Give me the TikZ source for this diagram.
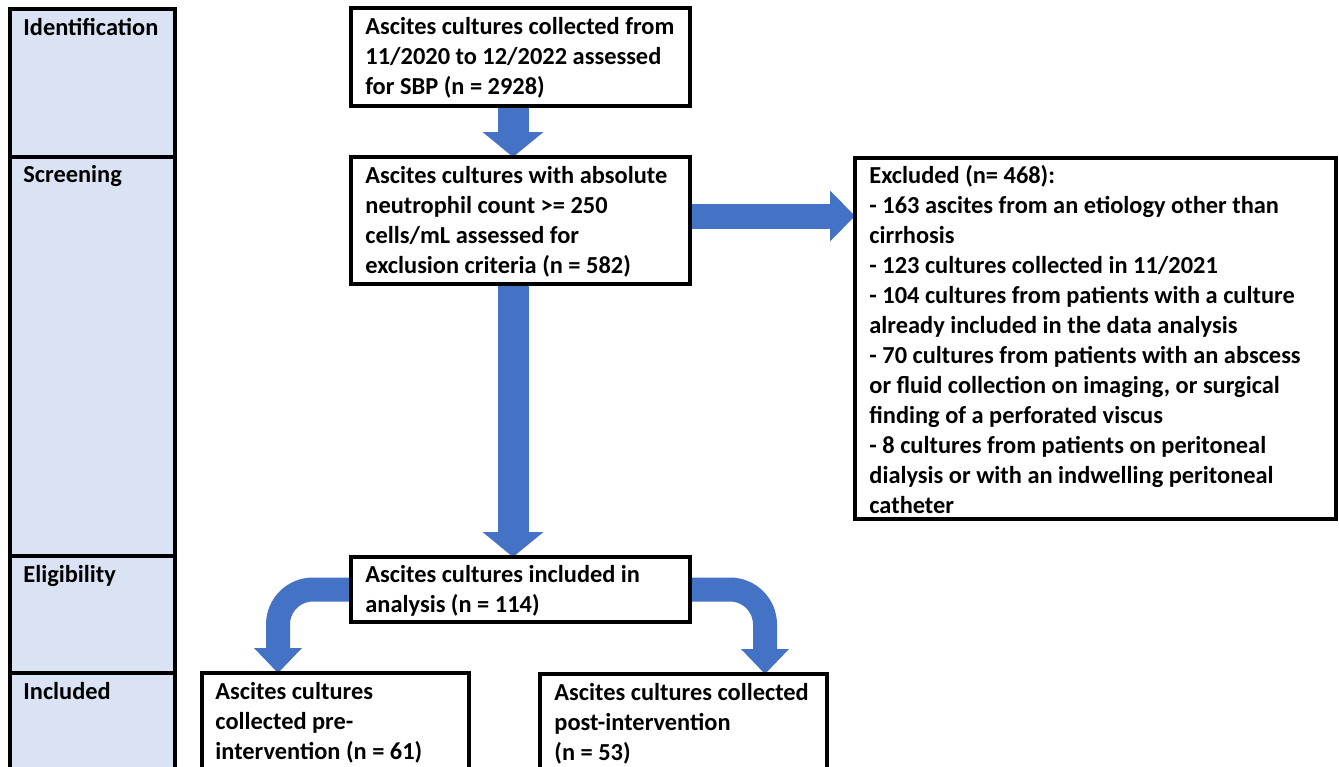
\documentclass[tikz,border=0pt]{standalone}
\usepackage{fontspec}
\setmainfont{Carlito}
\usetikzlibrary{calc}
\definecolor{acc}{HTML}{4472C4}
\definecolor{cellfill}{HTML}{DAE3F3}
\pgfdeclarelayer{background}
\pgfsetlayers{background,main}
\begin{document}
\begin{tikzpicture}[x=0.5pt,y=-0.5pt,
  cell/.style={draw, line width=1.6pt, fill=cellfill, anchor=north west, outer sep=0pt, inner sep=0pt, minimum width=82.5pt},
  box/.style={draw, line width=1.8pt, fill=white, anchor=north west, outer sep=0pt, inner sep=0pt},
  lab/.style={anchor=base west, inner sep=0pt, font=\bfseries\fontsize{12.2}{15}\selectfont},
  txt/.style={anchor=north west, inner sep=0pt, align=left, font=\bfseries\fontsize{12.2}{15}\selectfont},
  shaft/.style={draw=acc, line width=12pt, rounded corners=17.5pt},
  head/.style={fill=acc, draw=none}
]
\useasboundingbox (0,0) rectangle (1339,766);

% stage column
\node[cell, minimum height=74pt]    (c1) at (10,9)   {};
\node[cell, minimum height=199.5pt] (c2) at (10,157) {};
\node[cell, minimum height=58.5pt]  (c3) at (10,556) {};
\node[cell, minimum height=53.5pt]  (c4) at (10,673) {};
\node[lab] (l1) at ($(c1.north west)+(13,26)$) {Identification};
\node[lab] (l2) at ($(c2.north west)+(13,25)$) {Screening};
\node[lab] (l3) at ($(c3.north west)+(13,26)$) {Eligibility};
\node[lab] (l4) at ($(c4.north west)+(13,26)$) {Included};

% boxes
\node[box, minimum width=169.5pt, minimum height=49pt]    (b1) at (351,8)   {};
\node[box, minimum width=169.5pt, minimum height=63.5pt]  (b2) at (351,157) {};
\node[box, minimum width=240.5pt, minimum height=180.5pt] (ex) at (855,158) {};
\node[box, minimum width=169.5pt, minimum height=32.5pt]  (b3) at (351,557) {};
\node[box, minimum width=133.5pt, minimum height=53.5pt]  (bl) at (202,673) {};
\node[box, minimum width=143.5pt, minimum height=53.5pt]  (br) at (540,674) {};

\node[txt] (t1) at ($(b1.north west)+(14,5)$) {\strut Ascites cultures collected from\\11/2020 to 12/2022 assessed\\for SBP (n = 2928)};
\node[txt] (t2) at ($(b2.north west)+(14,5)$) {\strut Ascites cultures with absolute\\neutrophil count >= 250\\cells/mL assessed for\\exclusion criteria (n = 582)};
\node[txt] (tx) at ($(ex.north west)+(14,4)$) {\strut Excluded (n= 468):\\- 163 ascites from an etiology other than\\cirrhosis\\- 123 cultures collected in 11/2021\\- 104 cultures from patients with a culture\\already included in the data analysis\\- 70 cultures from patients with an abscess\\or fluid collection on imaging, or surgical\\finding of a perforated viscus\\- 8 cultures from patients on peritoneal\\dialysis or with an indwelling peritoneal\\catheter};
\node[txt] (t3) at ($(b3.north west)+(14,4)$) {\strut Ascites cultures included in\\analysis (n = 114)};
\node[txt] (tl) at ($(bl.north west)+(13,5)$) {\strut Ascites cultures\\collected pre-\\intervention (n = 61)};
\node[txt] (tr) at ($(br.north west)+(14,5)$) {\strut Ascites cultures collected\\post-intervention\\(n = 53)};

% block arrows
\begin{pgfonlayer}{background}
\fill[acc] ($(b1.south)+(-23,0)$) rectangle ($(b2.north)+(8,-25)$);
\fill[acc] ($(b2.north)+(-38,-25)$) -- ($(b2.north)+(23,-25)$) -- ($(b2.north)+(-7.5,0)$) -- cycle;

\fill[acc] ($(b2.south)+(-23,0)$) rectangle ($(b3.north)+(8,-25)$);
\fill[acc] ($(b3.north)+(-38,-25)$) -- ($(b3.north)+(23,-25)$) -- ($(b3.north)+(-7.5,0)$) -- cycle;

\coordinate (hs) at ($(b2.east)+(0,-4.5)$);
\coordinate (ht) at (ex.west |- hs);
\fill[acc] ($(hs)+(0,-12.5)$) rectangle ($(ht)+(-25,12.5)$);
\fill[acc] ($(ht)+(-25,-25.5)$) -- ($(ht)+(-25,25.5)$) -- (ht) -- cycle;

\coordinate (lt) at ($(bl.north)+(-57.5,0)$);
\draw[shaft] (b3.west) -| ($(lt)+(0,-25)$);
\fill[acc] ($(lt)+(-24,-25)$) -- ($(lt)+(24,-25)$) -- (lt) -- cycle;

\coordinate (rt) at ($(br.north)+(81.5,0)$);
\draw[shaft] (b3.east) -| ($(rt)+(0,-25)$);
\fill[acc] ($(rt)+(-24,-25)$) -- ($(rt)+(24,-25)$) -- (rt) -- cycle;
\end{pgfonlayer}
\end{tikzpicture}
\end{document}
